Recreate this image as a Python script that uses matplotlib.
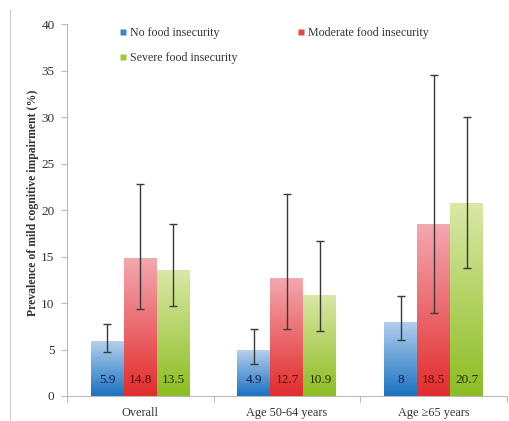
import numpy as np
import matplotlib
matplotlib.use("Agg")
import matplotlib.pyplot as plt
from matplotlib.colors import LinearSegmentedColormap
from matplotlib.lines import Line2D

categories = ["Overall", "Age 50-64 years", "Age \u226565 years"]
series = ["No food insecurity", "Moderate food insecurity", "Severe food insecurity"]
values = {
    "No food insecurity": [5.9, 4.9, 8.0],
    "Moderate food insecurity": [14.8, 12.7, 18.5],
    "Severe food insecurity": [13.5, 10.9, 20.7],
}
ci_low = {
    "No food insecurity": [4.7, 3.4, 6.0],
    "Moderate food insecurity": [9.35, 7.2, 8.9],
    "Severe food insecurity": [9.7, 7.0, 13.8],
}
ci_high = {
    "No food insecurity": [7.7, 7.2, 10.8],
    "Moderate food insecurity": [22.8, 21.7, 34.5],
    "Severe food insecurity": [18.5, 16.7, 30.0],
}
yticks = [0, 5, 10, 15, 20, 25, 30, 35, 40]

# gradient (top colour, bottom colour), legend colour, label colour
styles = {
    "No food insecurity": ("#b4d0ee", "#1a72c0", "#3a86d2", "#102040"),
    "Moderate food insecurity": ("#f4a8b0", "#e22c2c", "#e8454a", "#5a0d0d"),
    "Severe food insecurity": ("#dae8a6", "#8cbd22", "#9cc83a", "#243000"),
}

plt.rcParams["font.family"] = ["Liberation Serif", "DejaVu Serif"]
fig = plt.figure(figsize=(5.10, 4.21), dpi=100)
ax = fig.add_axes([67 / 510, 25 / 421, 440 / 510, 372 / 421])

x = np.arange(len(categories))
width = 0.225
offsets = [-width, 0, width]

for s, off in zip(series, offsets):
    top_c, bot_c, _, lab_c = styles[s]
    cmap = LinearSegmentedColormap.from_list(s, [bot_c, top_c])
    vals = values[s]
    bars = ax.bar(x + off, vals, width, color="none", edgecolor="none", zorder=2)
    for rect, v in zip(bars, vals):
        grad = np.linspace(0, 1, 256).reshape(-1, 1)
        im = ax.imshow(grad, cmap=cmap, origin="lower", aspect="auto",
                       extent=(rect.get_x(), rect.get_x() + width, 0, v), zorder=2)
        im.set_clip_path(rect)
    err = [np.array(vals) - np.array(ci_low[s]), np.array(ci_high[s]) - np.array(vals)]
    ax.errorbar(x + off, vals, yerr=err, fmt="none", ecolor="#3a3a3a",
                elinewidth=1.0, capsize=3, capthick=1.0, zorder=3)
    for xi, v in zip(x + off, vals):
        ax.text(xi, 1.7, f"{v:g}", ha="center", va="center", fontsize=9.5,
                color=lab_c, zorder=4)

ax.set_xlim(-0.5, 2.5)
ax.set_ylim(0, 40)
ax.set_yticks(yticks)
ax.set_xticks([-0.5, 0.5, 1.5, 2.5])
ax.set_xticklabels([])
ax.set_xticks(x, minor=True)
ax.set_xticklabels(categories, minor=True)
ax.tick_params(axis="x", which="minor", length=0, pad=8, labelsize=8.8, labelcolor="#333333")
ax.tick_params(axis="x", which="major", length=4, direction="out", color="#bbbbbb")
ax.tick_params(axis="y", length=4, direction="out", color="#bbbbbb", labelsize=9.5,
               labelcolor="#333333", pad=5)
for side in ["top", "right"]:
    ax.spines[side].set_visible(False)
for side in ["left", "bottom"]:
    ax.spines[side].set_color("#bbbbbb")
ax.set_ylabel("Prevalence of mild cognitive impairment (%)", fontsize=8.5,
              fontweight="bold", color="#333333")
ax.yaxis.set_label_coords(-0.064, 0.52)

# legend filled column by column: first column holds series 0 and 2
order = [0, 2, 1]
handles = [Line2D([], [], marker="s", linestyle="none", markersize=4,
                  markerfacecolor=styles[series[i]][2], markeredgecolor="none") for i in order]
ax.legend(handles, [series[i] for i in order], loc="upper left",
          bbox_to_anchor=(0.094, 1.02), ncol=2,
          frameon=False, fontsize=8.6, handlelength=0.6, handletextpad=0.3,
          columnspacing=5.0, labelspacing=1.05, labelcolor="#333333")

fig.add_artist(Line2D([10 / 510, 10 / 510], [0, 411 / 421], color="#cccccc", lw=0.8))

fig.savefig("out.png", dpi=100)
